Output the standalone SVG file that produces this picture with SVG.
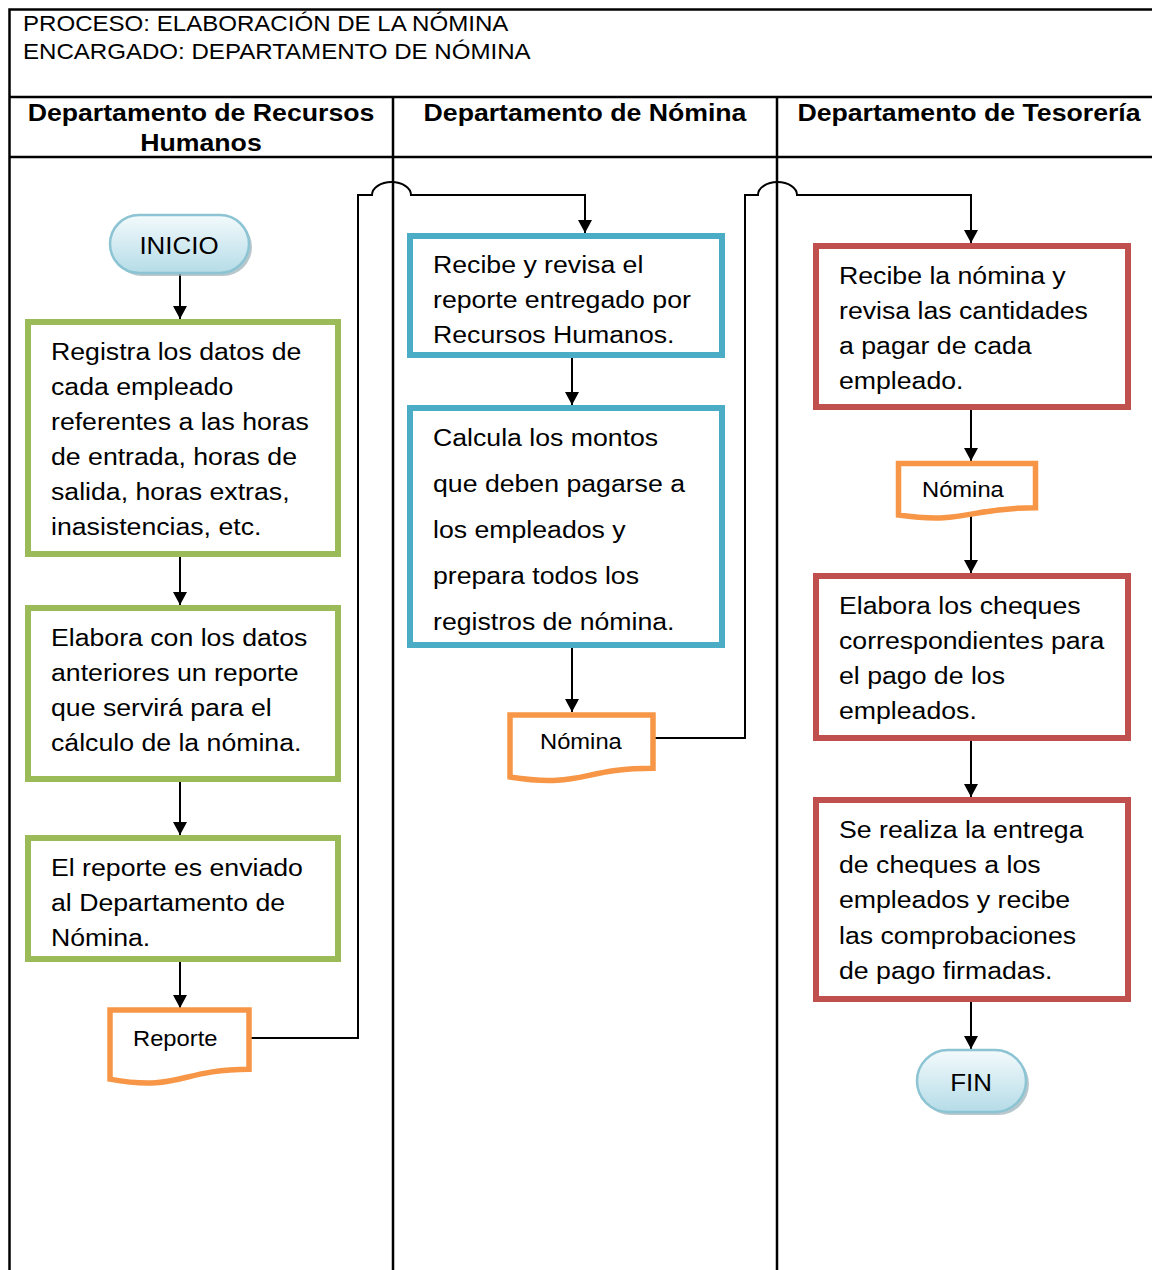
<svg xmlns="http://www.w3.org/2000/svg" width="1152" height="1270" viewBox="0 0 1152 1270">
  <defs>
    <style>
      text { font-family: "Liberation Sans", Arial, sans-serif; fill: #000; }
      .hdr { font-size: 22.3px; }
      .col { font-size: 24.7px; font-weight: bold; text-anchor: middle; }
      .bx { font-size: 24.7px; }
      .doc-t { font-size: 22px; }
      .term-t { font-size: 24px; text-anchor: middle; }
      .grid { stroke: #000; stroke-width: 2.5; fill: none; }
      .green { fill: #fff; stroke: #9BBB59; stroke-width: 6; }
      .blue { fill: #fff; stroke: #4BACC6; stroke-width: 6; }
      .red { fill: #fff; stroke: #C0504D; stroke-width: 6; }
      .doc { fill: #fff; stroke: #F79646; stroke-width: 5.5; stroke-linejoin: miter; }
      .term { fill: url(#termFill); stroke: #8CC4D4; stroke-width: 2.5; }
      .shadow { fill: #9AAFB5; opacity: 0.7; }
      .conn { fill: none; stroke: #000; stroke-width: 2; }
    </style>
    <linearGradient id="termFill" x1="0" y1="0" x2="0" y2="1">
      <stop offset="0" stop-color="#F3FAFC"/>
      <stop offset="1" stop-color="#B5DCE7"/>
    </linearGradient>
    <marker id="arrow" markerUnits="userSpaceOnUse" viewBox="0 0 14 14" markerWidth="14" markerHeight="14" refX="13" refY="7" orient="auto">
      <path d="M0,0 L13,7 L0,14 z" fill="#000"/>
    </marker>
  </defs>

  <!-- Swimlane table frame -->
  <g id="table">
    <path class="grid" d="M9.5,1270 V9.5 H1152 M9.5,97 H1152 M9.5,157 H1152 M393,97 V1270 M777,97 V1270"/>
    <text class="hdr" transform="translate(23 0) scale(1.08 1)"><tspan x="0" y="31">PROCESO: ELABORACIÓN DE LA NÓMINA</tspan><tspan x="0" y="59">ENCARGADO: DEPARTAMENTO DE NÓMINA</tspan></text>
    <text class="col" transform="translate(201 0) scale(1.08 1)"><tspan x="0" y="121">Departamento de Recursos</tspan><tspan x="0" y="151">Humanos</tspan></text>
    <text class="col" transform="translate(585 0) scale(1.08 1)"><tspan x="0" y="121">Departamento de Nómina</tspan></text>
    <text class="col" transform="translate(969 0) scale(1.08 1)"><tspan x="0" y="121">Departamento de Tesorería</tspan></text>
  </g>

  <!-- Connectors -->
  <g id="connectors">
    <path class="conn" marker-end="url(#arrow)" d="M180,273 V319"/>
    <path class="conn" marker-end="url(#arrow)" d="M180,557 V605"/>
    <path class="conn" marker-end="url(#arrow)" d="M180,782 V835"/>
    <path class="conn" marker-end="url(#arrow)" d="M180,962 V1008"/>
    <path class="conn" marker-end="url(#arrow)" d="M249,1038 H358 V195 H372 A19.5,13 0 0 1 411,195 H585 V233"/>
    <path class="conn" marker-end="url(#arrow)" d="M572,358 V405"/>
    <path class="conn" marker-end="url(#arrow)" d="M572,648 V712"/>
    <path class="conn" marker-end="url(#arrow)" d="M653,738 H745 V195 H758 A19.5,13 0 0 1 797,195 H971 V243"/>
    <path class="conn" marker-end="url(#arrow)" d="M971,410 V461"/>
    <path class="conn" marker-end="url(#arrow)" d="M971,512 V573"/>
    <path class="conn" marker-end="url(#arrow)" d="M971,741 V797"/>
    <path class="conn" marker-end="url(#arrow)" d="M971,1002 V1049"/>
  </g>

  <!-- Recursos Humanos lane -->
  <g id="inicio">
    <rect class="shadow" x="113" y="218" width="139" height="58" rx="29"/>
    <rect class="term" x="110" y="215" width="139" height="58" rx="29"/>
    <text class="term-t" transform="translate(179 0) scale(1.08 1)"><tspan x="0" y="254">INICIO</tspan></text>
  </g>
  <g id="registra">
    <rect class="green" x="28" y="322" width="310" height="232"/>
    <text class="bx" transform="translate(51 0) scale(1.08 1)"><tspan x="0" y="360">Registra los datos de</tspan><tspan x="0" y="395">cada empleado</tspan><tspan x="0" y="430">referentes a las horas</tspan><tspan x="0" y="465">de entrada, horas de</tspan><tspan x="0" y="500">salida, horas extras,</tspan><tspan x="0" y="535">inasistencias, etc.</tspan></text>
  </g>
  <g id="elabora-reporte">
    <rect class="green" x="28" y="608" width="310" height="171"/>
    <text class="bx" transform="translate(51 0) scale(1.08 1)"><tspan x="0" y="646">Elabora con los datos</tspan><tspan x="0" y="681">anteriores un reporte</tspan><tspan x="0" y="716">que servirá para el</tspan><tspan x="0" y="751">cálculo de la nómina.</tspan></text>
  </g>
  <g id="envia-reporte">
    <rect class="green" x="28" y="838" width="310" height="121"/>
    <text class="bx" transform="translate(51 0) scale(1.08 1)"><tspan x="0" y="876">El reporte es enviado</tspan><tspan x="0" y="911">al Departamento de</tspan><tspan x="0" y="946">Nómina.</tspan></text>
  </g>
  <g id="doc-reporte">
    <path class="doc" d="M110,1010 H249 V1069.3 C179.5,1069.3 179.5,1091.9 110,1079.1 Z"/>
    <text class="doc-t" transform="translate(133 0) scale(1.08 1)"><tspan x="0" y="1046">Reporte</tspan></text>
  </g>

  <!-- Nómina lane -->
  <g id="recibe-reporte">
    <rect class="blue" x="410" y="236" width="312" height="119"/>
    <text class="bx" transform="translate(433 0) scale(1.08 1)"><tspan x="0" y="273">Recibe y revisa el</tspan><tspan x="0" y="308">reporte entregado por</tspan><tspan x="0" y="343">Recursos Humanos.</tspan></text>
  </g>
  <g id="calcula">
    <rect class="blue" x="410" y="408" width="312" height="237"/>
    <text class="bx" transform="translate(433 0) scale(1.08 1)"><tspan x="0" y="446">Calcula los montos</tspan><tspan x="0" y="492">que deben pagarse a</tspan><tspan x="0" y="538">los empleados y</tspan><tspan x="0" y="584">prepara todos los</tspan><tspan x="0" y="630">registros de nómina.</tspan></text>
  </g>
  <g id="doc-nomina-1">
    <path class="doc" d="M510,715 H653 V768.3 C581.5,768.3 581.5,788.5 510,777 Z"/>
    <text class="doc-t" transform="translate(540 0) scale(1.08 1)"><tspan x="0" y="749">Nómina</tspan></text>
  </g>

  <!-- Tesorería lane -->
  <g id="recibe-nomina">
    <rect class="red" x="816" y="246" width="312" height="161"/>
    <text class="bx" transform="translate(839 0) scale(1.08 1)"><tspan x="0" y="284">Recibe la nómina y</tspan><tspan x="0" y="319">revisa las cantidades</tspan><tspan x="0" y="354">a pagar de cada</tspan><tspan x="0" y="389">empleado.</tspan></text>
  </g>
  <g id="doc-nomina-2">
    <path class="doc" d="M898.5,463.5 H1035.5 V507.7 C967,507.7 967,524.5 898.5,515 Z"/>
    <text class="doc-t" transform="translate(922 0) scale(1.08 1)"><tspan x="0" y="497">Nómina</tspan></text>
  </g>
  <g id="elabora-cheques">
    <rect class="red" x="816" y="576" width="312" height="162"/>
    <text class="bx" transform="translate(839 0) scale(1.08 1)"><tspan x="0" y="614">Elabora los cheques</tspan><tspan x="0" y="649">correspondientes para</tspan><tspan x="0" y="684">el pago de los</tspan><tspan x="0" y="719">empleados.</tspan></text>
  </g>
  <g id="entrega-cheques">
    <rect class="red" x="816" y="800" width="312" height="199"/>
    <text class="bx" transform="translate(839 0) scale(1.08 1)"><tspan x="0" y="838">Se realiza la entrega</tspan><tspan x="0" y="873">de cheques a los</tspan><tspan x="0" y="908">empleados y recibe</tspan><tspan x="0" y="944">las comprobaciones</tspan><tspan x="0" y="979">de pago firmadas.</tspan></text>
  </g>
  <g id="fin">
    <rect class="shadow" x="920" y="1053" width="109" height="62" rx="31"/>
    <rect class="term" x="917" y="1050" width="109" height="62" rx="31"/>
    <text class="term-t" transform="translate(971 0) scale(1.08 1)"><tspan x="0" y="1091">FIN</tspan></text>
  </g>
</svg>
